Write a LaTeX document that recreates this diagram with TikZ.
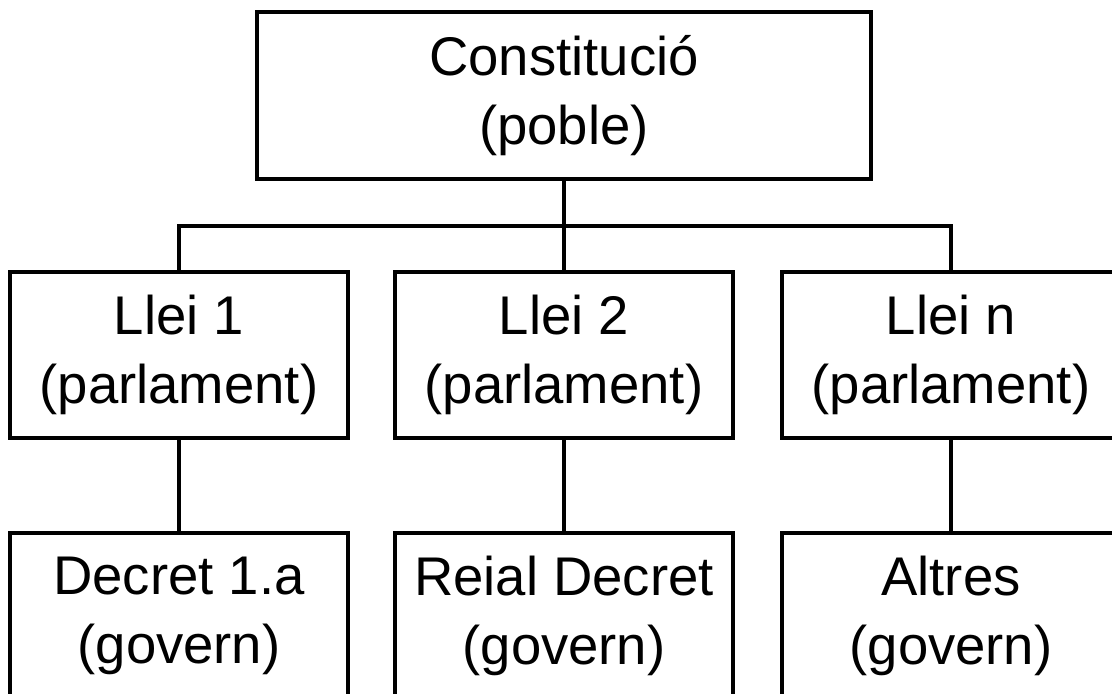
\documentclass[tikz,border=0pt]{standalone}
\usepackage{fontspec}
\setmainfont{Liberation Sans}
\usetikzlibrary{positioning}

\begin{document}
\begin{tikzpicture}[line width=2.3pt,
        box/.style={draw, rectangle, align=center, inner sep=0pt,
            minimum width=6.76cm, minimum height=3.32cm,
            font=\fontsize{31}{39}\selectfont}]
            \useasboundingbox (0,0) rectangle (22.24,-13.88);

            % Nodes
            \node[box, minimum width=12.28cm, minimum height=3.34cm] at (11.28, -1.91) (const) {Constitució\\(poble)};

            \node[box] at (3.58, -7.10) (llei1) {Llei 1\\(parlament)};
            \node[box] at (11.28, -7.10) (llei2) {Llei 2\\(parlament)};
            \node[box] at (19.02, -7.10) (lleiN) {Llei n\\(parlament)};

            \node[box] at (3.58, -12.32) (decret) {Decret 1.a\\(govern)};
            \node[box] at (11.28, -12.32) (reial) {Reial Decret\\(govern)};
            \node[box] at (19.02, -12.32) (altres) {Altres\\(govern)};

            \coordinate (bus) at (11.28, -4.52);

            % Edges
            \draw (const) -- (llei2);
            \draw (llei1.north) -- (llei1.north |- bus) -- (lleiN.north |- bus) -- (lleiN.north);

            \draw (llei1) -- (decret);
            \draw (llei2) -- (reial);
            \draw (lleiN) -- (altres);
        \end{tikzpicture}
\end{document}
